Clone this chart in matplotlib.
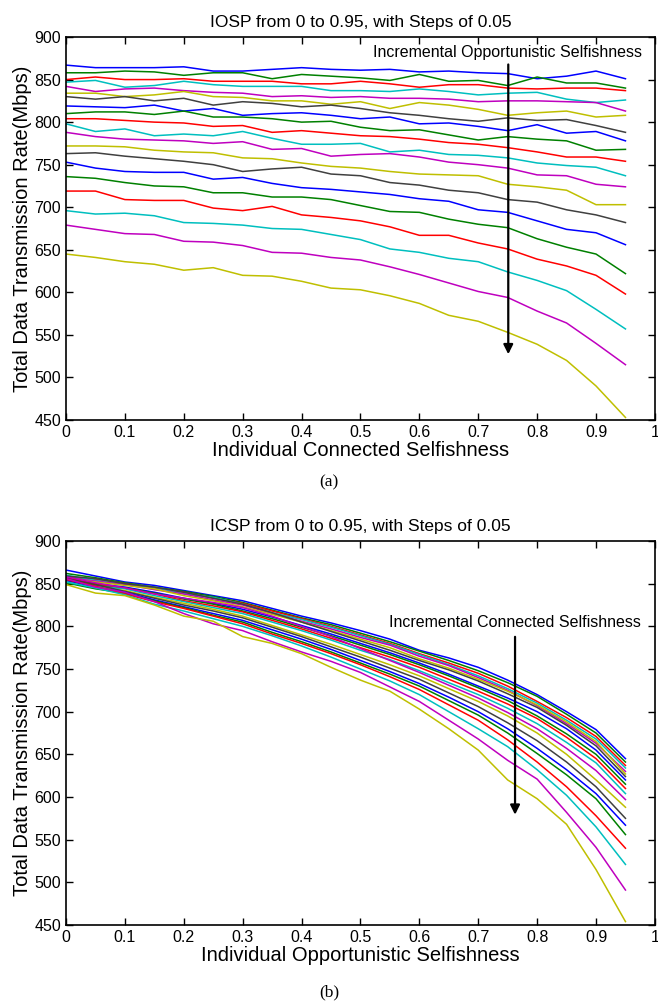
import matplotlib
matplotlib.use("Agg")
import matplotlib.pyplot as plt
import numpy as np

plt.rcParams['font.family'] = ['Liberation Sans', 'DejaVu Sans']

x = [0, 0.05, 0.1, 0.15, 0.2, 0.25, 0.3, 0.35, 0.4, 0.45,
     0.5, 0.55, 0.6, 0.65, 0.7, 0.75, 0.8, 0.85, 0.9, 0.95]

# panel (a): one line per IOSP value
iosp_lines = [
    [867, 864, 864, 864, 865, 860, 860, 862, 864, 862, 861, 862, 859, 860, 858, 857, 851, 854, 860, 851],
    [858, 858, 860, 859, 855, 858, 858, 851, 856, 854, 852, 849, 856, 848, 849, 843, 853, 846, 846, 840],
    [850, 853, 850, 850, 851, 848, 848, 848, 845, 845, 848, 845, 841, 844, 844, 840, 839, 840, 840, 837],
    [847, 849, 841, 843, 848, 844, 842, 842, 842, 837, 837, 836, 839, 836, 832, 834, 835, 827, 823, 826],
    [842, 836, 839, 840, 837, 835, 834, 830, 831, 829, 830, 828, 828, 827, 824, 825, 825, 824, 823, 813],
    [834, 834, 830, 832, 836, 830, 829, 825, 825, 821, 824, 816, 823, 820, 815, 808, 811, 813, 806, 808],
    [830, 827, 830, 825, 828, 820, 824, 822, 818, 820, 816, 811, 808, 804, 801, 805, 802, 803, 796, 788],
    [819, 818, 817, 820, 813, 816, 808, 810, 811, 808, 804, 806, 798, 799, 795, 790, 797, 787, 789, 778],
    [810, 812, 812, 809, 813, 806, 806, 804, 800, 801, 794, 790, 791, 785, 779, 783, 780, 778, 767, 768],
    [804, 804, 802, 800, 799, 795, 796, 788, 790, 787, 784, 783, 780, 776, 774, 770, 765, 759, 759, 754],
    [798, 789, 792, 784, 786, 784, 789, 781, 774, 774, 775, 765, 767, 762, 761, 758, 752, 749, 747, 737],
    [788, 783, 780, 779, 778, 775, 777, 768, 769, 760, 762, 763, 759, 753, 750, 746, 738, 737, 727, 724],
    [772, 772, 771, 767, 765, 764, 758, 757, 752, 748, 746, 742, 739, 738, 737, 727, 724, 720, 703, 703],
    [763, 764, 760, 757, 754, 750, 742, 745, 747, 739, 737, 729, 726, 720, 717, 709, 706, 697, 691, 682],
    [753, 746, 742, 741, 741, 733, 735, 728, 723, 721, 718, 715, 710, 707, 697, 694, 684, 674, 670, 656],
    [736, 734, 729, 725, 724, 717, 717, 712, 712, 709, 702, 695, 694, 686, 680, 676, 663, 653, 645, 622],
    [719, 719, 709, 708, 708, 699, 696, 701, 691, 688, 684, 677, 667, 667, 658, 651, 639, 631, 620, 598],
    [696, 692, 693, 690, 682, 681, 679, 675, 674, 668, 662, 651, 647, 640, 636, 624, 614, 602, 580, 557],
    [679, 674, 669, 668, 660, 659, 655, 647, 646, 641, 638, 630, 621, 611, 601, 594, 578, 564, 540, 515],
    [645, 641, 636, 633, 626, 629, 620, 619, 613, 605, 603, 596, 587, 573, 566, 553, 539, 520, 490, 453],
]

# panel (b): one line per ICSP value
icsp_lines = [
    [866, 859, 852, 848, 842, 836, 830, 821, 812, 804, 795, 785, 772, 763, 752, 737, 720, 700, 679, 645],
    [862, 857, 851, 846, 841, 835, 828, 819, 810, 802, 792, 782, 771, 760, 748, 734, 718, 697, 675, 641],
    [858, 855, 850, 845, 840, 833, 827, 818, 809, 800, 790, 780, 768, 757, 745, 730, 712, 693, 671, 637],
    [860, 854, 849, 846, 838, 834, 826, 816, 808, 799, 789, 779, 767, 755, 742, 727, 710, 690, 668, 634],
    [857, 853, 849, 843, 838, 831, 825, 815, 806, 797, 787, 778, 765, 754, 740, 725, 707, 686, 663, 630],
    [856, 852, 848, 844, 836, 830, 823, 814, 805, 795, 785, 775, 762, 751, 738, 724, 708, 688, 665, 627],
    [859, 856, 850, 846, 840, 833, 826, 816, 805, 794, 783, 772, 760, 749, 736, 721, 705, 684, 660, 624],
    [855, 850, 846, 840, 833, 827, 820, 811, 801, 791, 780, 769, 757, 744, 730, 716, 700, 680, 655, 620],
    [854, 848, 845, 839, 832, 826, 818, 809, 799, 789, 778, 767, 755, 742, 728, 713, 695, 674, 650, 615],
    [857, 850, 845, 838, 830, 824, 817, 807, 797, 786, 775, 764, 752, 738, 724, 709, 692, 670, 645, 610],
    [853, 847, 844, 836, 829, 822, 815, 805, 795, 784, 772, 761, 748, 734, 720, 704, 686, 664, 640, 604],
    [858, 851, 845, 838, 833, 828, 822, 812, 800, 788, 774, 760, 746, 731, 716, 699, 680, 657, 631, 597],
    [852, 846, 842, 834, 827, 820, 812, 801, 790, 779, 767, 755, 742, 727, 712, 695, 675, 650, 620, 588],
    [856, 849, 841, 833, 825, 818, 810, 799, 788, 776, 764, 751, 738, 722, 706, 687, 666, 641, 612, 575],
    [854, 846, 840, 831, 823, 815, 807, 796, 785, 773, 760, 747, 733, 717, 700, 680, 657, 632, 604, 567],
    [851, 844, 839, 830, 822, 813, 805, 793, 782, 770, 757, 744, 730, 713, 696, 675, 651, 626, 598, 556],
    [855, 847, 838, 829, 821, 812, 803, 791, 780, 768, 755, 741, 726, 708, 690, 667, 641, 612, 578, 540],
    [852, 845, 837, 826, 818, 809, 800, 789, 777, 764, 750, 736, 720, 700, 680, 659, 632, 602, 565, 521],
    [856, 846, 840, 829, 815, 803, 795, 782, 770, 759, 746, 729, 712, 690, 668, 643, 621, 582, 541, 491],
    [849, 839, 836, 825, 812, 806, 788, 780, 768, 752, 737, 724, 703, 680, 655, 620, 598, 568, 515, 454],
]

xticks = [0, 0.1, 0.2, 0.3, 0.4, 0.5, 0.6, 0.7, 0.8, 0.9, 1]
xticklabels = ['0', '0.1', '0.2', '0.3', '0.4', '0.5', '0.6', '0.7', '0.8', '0.9', '1']
yticks = [450, 500, 550, 600, 650, 700, 750, 800, 850, 900]

# old matlab line colour order
line_colors = [(0, 0, 1), (0, 0.5, 0), (1, 0, 0), (0, 0.75, 0.75),
               (0.75, 0, 0.75), (0.75, 0.75, 0), (0.25, 0.25, 0.25)]

fig = plt.figure(figsize=(6.58, 10.06), dpi=100)


def draw_panel(ax, lines, title, xlabel, note, note_xy, arrow_x, arrow_top, arrow_tip):
    for i, ys in enumerate(lines):
        ax.plot(x, ys, color=line_colors[i % 7], lw=1.1)
    ax.set_xlim(0, 1)
    ax.set_ylim(450, 900)
    ax.set_xticks(xticks)
    ax.set_xticklabels(xticklabels)
    ax.set_yticks(yticks)
    ax.tick_params(direction='in', top=True, right=True, labelsize=11.5, length=5, width=1)
    for s in ax.spines.values():
        s.set_linewidth(1.2)
    ax.set_title(title, fontsize=12.5, pad=7)
    ax.set_xlabel(xlabel, fontsize=14.5, labelpad=1)
    ax.set_ylabel('Total Data Transmission Rate(Mbps)', fontsize=14.5, labelpad=2)
    ax.text(note_xy[0], note_xy[1], note, fontsize=11.5, ha='center', va='center')
    ax.annotate('', xy=(arrow_x, arrow_tip), xytext=(arrow_x, arrow_top),
                arrowprops=dict(arrowstyle='-|>', color='k', lw=1.6, mutation_scale=14))


ax1 = fig.add_axes([0.1003, 0.5825, 0.895, 0.3807])
draw_panel(ax1, iosp_lines, 'IOSP from 0 to 0.95, with Steps of 0.05',
           'Individual Connected Selfishness', 'Incremental Opportunistic Selfishness',
           (0.75, 882), 0.751, 871, 524)

ax2 = fig.add_axes([0.1003, 0.0805, 0.895, 0.3817])
draw_panel(ax2, icsp_lines, 'ICSP from 0 to 0.95, with Steps of 0.05',
           'Individual Opportunistic Selfishness', 'Incremental Connected Selfishness',
           (0.763, 804), 0.7625, 791, 576)

fig.text(0.5, 1 - 482 / 1006, '(a)', ha='center', va='center', fontsize=12.5, family='Liberation Serif')
fig.text(0.5, 1 - 992 / 1006, '(b)', ha='center', va='center', fontsize=12.5, family='Liberation Serif')

fig.savefig('out.png', dpi=100)
